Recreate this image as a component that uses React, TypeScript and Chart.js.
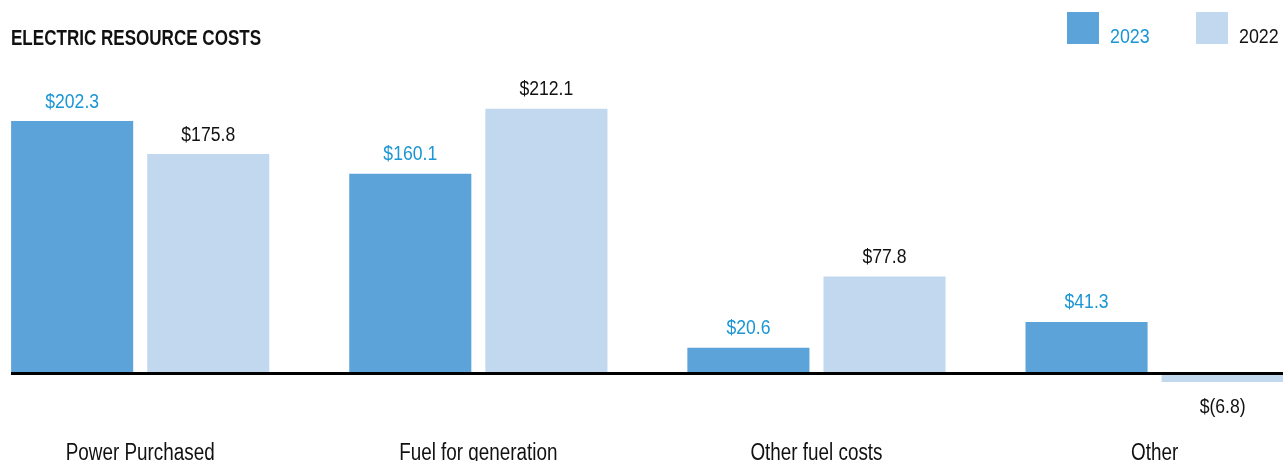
import React, { useEffect, useRef } from "react";
import { Chart, registerables } from "chart.js";

Chart.register(...registerables);

const chartTitle = "ELECTRIC RESOURCE COSTS";
const categories = ["Power Purchased", "Fuel for generation", "Other fuel costs", "Other"];
const seriesNames = ["2023", "2022"];
const values2023 = [202.3, 160.1, 20.6, 41.3];
const values2022 = [175.8, 212.1, 77.8, -6.8];
const yMin = -40;
const yMax = 220;

const BAR_DARK = "#5ba3d9";
const BAR_LIGHT = "#c2d8ef";
const TEXT_BLUE = "#1a96d4";
const TEXT_BLACK = "#111111";
const FONT = '"Liberation Sans", Arial, sans-serif';

const W = 1283;
const H = 461;

function fmt(v: number): string {
  return v < 0 ? `$(${Math.abs(v).toFixed(1)})` : `$${v.toFixed(1)}`;
}

function narrowText(ctx: CanvasRenderingContext2D, text: string, x: number, y: number, squeeze: number) {
  const w = ctx.measureText(text).width;
  ctx.fillText(text, x, y, w * squeeze);
}

const decorPlugin = {
  id: "decor",
  afterDatasetsDraw(chart: any) {
    const ctx = chart.ctx as CanvasRenderingContext2D;
    const yScale = chart.scales.y;
    const xScale = chart.scales.x;
    const zeroY = yScale.getPixelForValue(0);
    ctx.save();

    // baseline
    ctx.strokeStyle = "#000";
    ctx.lineWidth = 3;
    ctx.beginPath();
    ctx.moveTo(11, zeroY);
    ctx.lineTo(W, zeroY);
    ctx.stroke();

    // value labels
    ctx.font = `20px ${FONT}`;
    ctx.textAlign = "center";
    ctx.textBaseline = "alphabetic";
    chart.data.datasets.forEach((ds: any, di: number) => {
      const meta = chart.getDatasetMeta(di);
      ctx.fillStyle = di === 0 ? TEXT_BLUE : TEXT_BLACK;
      meta.data.forEach((el: any, i: number) => {
        const v = ds.data[i] as number;
        if (v >= 0) {
          narrowText(ctx, fmt(v), el.x, el.y - 13.5, 0.88);
        } else {
          narrowText(ctx, fmt(v), el.x, el.y + 31, 0.88);
        }
      });
    });

    // category labels
    ctx.fillStyle = TEXT_BLACK;
    ctx.font = `23px ${FONT}`;
    categories.forEach((c, i) => {
      narrowText(ctx, c, xScale.getPixelForTick(i), 460, 0.82);
    });

    // title
    ctx.textAlign = "left";
    ctx.font = `bold 22px ${FONT}`;
    ctx.fillStyle = TEXT_BLACK;
    narrowText(ctx, chartTitle, 11, 45, 0.775);

    // legend
    const legend = [
      { name: seriesNames[0], box: BAR_DARK, text: TEXT_BLUE, x: 1067 },
      { name: seriesNames[1], box: BAR_LIGHT, text: TEXT_BLACK, x: 1196 },
    ];
    ctx.font = `21px ${FONT}`;
    legend.forEach((l) => {
      ctx.fillStyle = l.box;
      ctx.fillRect(l.x, 12, 32, 32);
      ctx.fillStyle = l.text;
      narrowText(ctx, l.name, l.x + 43, 43, 0.85);
    });

    ctx.restore();
  },
};

export default function App() {
  const ref = useRef<HTMLCanvasElement | null>(null);

  useEffect(() => {
    if (!ref.current) return;
    const k = 1.248;
    const zero = 373.5;
    const top = zero - yMax * k;
    const bottom = zero - yMin * k;
    const chart = new Chart(ref.current, {
      type: "bar",
      data: {
        labels: categories,
        datasets: [
          {
            label: seriesNames[0],
            data: values2023,
            backgroundColor: BAR_DARK,
            borderWidth: 0,
            clip: false as any,
          },
          {
            label: seriesNames[1],
            data: values2022,
            backgroundColor: BAR_LIGHT,
            borderWidth: 0,
            clip: false as any,
          },
        ],
      },
      options: {
        responsive: false,
        animation: false,
        devicePixelRatio: 1,
        layout: {
          padding: { left: 140.2, right: W - 1154.6, top: top, bottom: H - bottom },
        },
        datasets: {
          bar: { categoryPercentage: 0.805, barPercentage: 0.897 },
        },
        scales: {
          x: { display: false, offset: false, grid: { display: false } },
          y: { display: false, min: yMin, max: yMax, grid: { display: false } },
        },
        plugins: {
          legend: { display: false },
          title: { display: false },
          tooltip: { enabled: false },
        },
      },
      plugins: [decorPlugin],
    });
    return () => chart.destroy();
  }, []);

  return (
    <div style={{ position: "fixed", left: 0, top: 0, width: W, height: H, background: "#fff" }}>
      <canvas ref={ref} width={W} height={H} style={{ display: "block" }} />
    </div>
  );
}
